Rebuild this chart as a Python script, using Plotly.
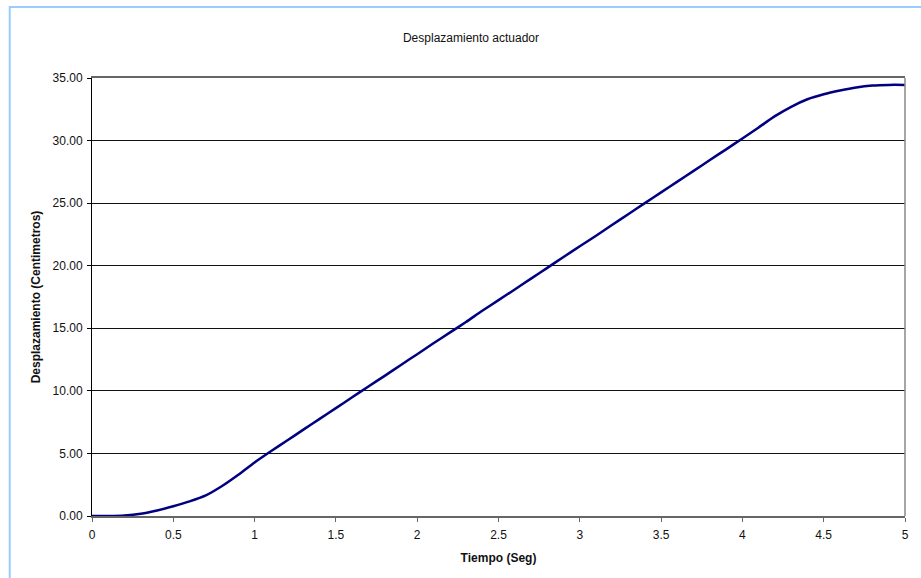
import plotly.graph_objects as go

# Actuator displacement over time
tiempo = [0.0, 0.1, 0.2, 0.3, 0.4, 0.5, 0.6, 0.7, 0.8, 0.9,
          1.0, 1.1, 1.2, 1.3, 1.4, 1.5, 1.6, 1.7, 1.8, 1.9,
          2.0, 2.1, 2.2, 2.3, 2.4, 2.5, 2.6, 2.7, 2.8, 2.9,
          3.0, 3.1, 3.2, 3.3, 3.4, 3.5, 3.6, 3.7, 3.8, 3.9,
          4.0, 4.1, 4.2, 4.3, 4.4, 4.5, 4.6, 4.7, 4.8, 4.9, 5.0]
desplazamiento = [0.00, 0.00, 0.04, 0.18, 0.44, 0.78, 1.17, 1.65, 2.40, 3.30,
                  4.28, 5.17, 6.03, 6.90, 7.76, 8.62, 9.49, 10.35, 11.20, 12.07,
                  12.93, 13.80, 14.65, 15.50, 16.40, 17.25, 18.10, 18.97, 19.83, 20.70,
                  21.55, 22.40, 23.27, 24.13, 25.00, 25.86, 26.72, 27.58, 28.45, 29.30,
                  30.17, 31.05, 31.95, 32.70, 33.30, 33.70, 34.00, 34.25, 34.40, 34.45, 34.45]

x_ticks = [0, 0.5, 1, 1.5, 2, 2.5, 3, 3.5, 4, 4.5, 5]
x_tick_text = ["0", "0.5", "1", "1.5", "2", "2.5", "3", "3.5", "4", "4.5", "5"]
y_ticks = [0, 5, 10, 15, 20, 25, 30, 35]
y_tick_text = ["0.00", "5.00", "10.00", "15.00", "20.00", "25.00", "30.00", "35.00"]

FONT = "Liberation Sans, Arial, sans-serif"

fig = go.Figure()
fig.add_trace(go.Scatter(
    x=tiempo, y=desplazamiento, mode="lines",
    line=dict(color="#000080", width=2.5, shape="spline", smoothing=0.6),
    showlegend=False, hoverinfo="x+y",
))

fig.update_layout(
    width=921, height=578,
    margin=dict(l=92, r=12, t=78, b=62),
    paper_bgcolor="white", plot_bgcolor="white",
    font=dict(family=FONT, size=12, color="#111111"),
    title=dict(text="Desplazamiento actuador", x=471 / 921, xanchor="center",
               y=1 - 38 / 578, yanchor="middle",
               font=dict(family=FONT, size=12, color="#111111")),
    xaxis=dict(
        range=[0, 5], tickvals=x_ticks, ticktext=x_tick_text,
        showgrid=False, zeroline=False,
        showline=True, linecolor="#666666", linewidth=1.5, mirror=True,
        ticks="outside", ticklen=4, tickcolor="#666666", ticklabelstandoff=3,
        tickfont=dict(family=FONT, size=12, color="#111111"),
        title=dict(text="<b>Tiempo (Seg)</b>", standoff=12,
                   font=dict(family=FONT, size=12, color="#111111")),
    ),
    yaxis=dict(
        range=[0, 35], tickvals=y_ticks, ticktext=y_tick_text,
        showgrid=True, gridcolor="#111111", gridwidth=1, zeroline=False,
        showline=True, linecolor="#000000", linewidth=1,
        ticks="outside", ticklen=4, tickcolor="#000000", ticklabelstandoff=2,
        tickfont=dict(family=FONT, size=12, color="#111111"),
        title=dict(text="<b>Desplazamiento (Centimetros)</b>", standoff=9,
                   font=dict(family=FONT, size=12, color="#111111")),
    ),
    shapes=[
        # right edge of the plot frame
        dict(type="line", xref="paper", yref="paper", x0=1, x1=1, y0=0, y1=1,
             line=dict(color="#888888", width=1.5)),
        # chart-area border
        dict(type="rect", xref="paper", yref="paper",
             x0=-0.1012, x1=1.2, y0=-0.3, y1=1.1623,
             line=dict(color="#99CCFF", width=2), layer="below"),
    ],
)

fig.write_html("out.html")
